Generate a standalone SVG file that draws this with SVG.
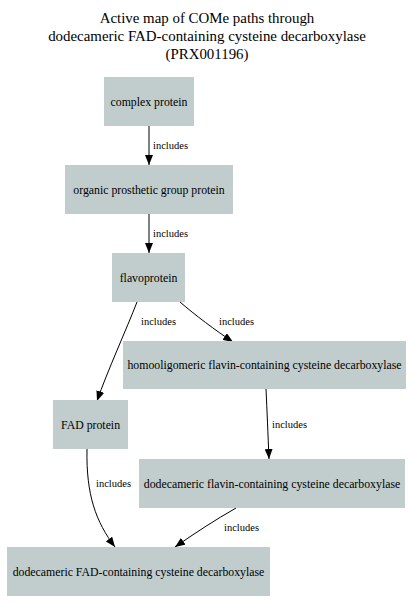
<svg xmlns="http://www.w3.org/2000/svg" width="410" height="612" viewBox="0 0 410 612">
<style>
.title{font-family:"Liberation Serif","Times New Roman",serif;font-size:14.9px;fill:#000;text-anchor:middle}
.node rect{fill:#c1cdcd;stroke:none}
.node text{font-family:"Liberation Serif","Times New Roman",serif;font-size:11.8px;fill:#000;text-anchor:middle}
.edges path{fill:none;stroke:#000;stroke-width:1}
.edges text{font-family:"Liberation Serif","Times New Roman",serif;font-size:10.5px;fill:#000}
</style>
<defs>
<marker id="arr" viewBox="0 0 10 8" refX="10" refY="4" markerWidth="10" markerHeight="8" markerUnits="userSpaceOnUse" orient="auto">
<path d="M0,0 L10,4 L0,8 Z" fill="#000"/>
</marker>
</defs>
<rect width="410" height="612" fill="#fff"/>
<g id="title">
<text class="title" x="207" y="23">Active map of COMe paths through</text>
<text class="title" x="207" y="41">dodecameric FAD-containing cysteine decarboxylase</text>
<text class="title" x="207" y="59">(PRX001196)</text>
</g>
<g id="edges" class="edges">
<path d="M149,126 L149,165" marker-end="url(#arr)"/>
<text x="153" y="149">includes</text>
<path d="M149,214 L149,253" marker-end="url(#arr)"/>
<text x="153" y="237">includes</text>
<path d="M137,302 C127,328 107,372 97,401" marker-end="url(#arr)"/>
<text x="141" y="325">includes</text>
<path d="M180,302 C195,315 215,330 233,342" marker-end="url(#arr)"/>
<text x="219" y="325">includes</text>
<path d="M266,389 C267,410 268,435 269,459" marker-end="url(#arr)"/>
<text x="272" y="428">includes</text>
<path d="M87,449 C86,495 96,522 115,547" marker-end="url(#arr)"/>
<text x="96" y="487">includes</text>
<path d="M236,508 C215,520 195,533 175,547" marker-end="url(#arr)"/>
<text x="224" y="531">includes</text>
</g>
<g id="n1" class="node"><rect x="104" y="77" width="90" height="49"/><text x="149" y="105.5">complex protein</text></g>
<g id="n2" class="node"><rect x="65" y="165" width="168" height="49"/><text x="149" y="193.5">organic prosthetic group protein</text></g>
<g id="n3" class="node"><rect x="112" y="253" width="73" height="49"/><text x="148.5" y="281.5">flavoprotein</text></g>
<g id="n4" class="node"><rect x="123" y="341" width="283" height="48"/><text x="264.5" y="369">homooligomeric flavin-containing cysteine decarboxylase</text></g>
<g id="n5" class="node"><rect x="53" y="400" width="75" height="49"/><text x="90.5" y="428.5">FAD protein</text></g>
<g id="n6" class="node"><rect x="139" y="459" width="266" height="49"/><text x="272" y="487.5">dodecameric flavin-containing cysteine decarboxylase</text></g>
<g id="n7" class="node"><rect x="7" y="547" width="263" height="49"/><text x="138.5" y="575.5">dodecameric FAD-containing cysteine decarboxylase</text></g>
</svg>
